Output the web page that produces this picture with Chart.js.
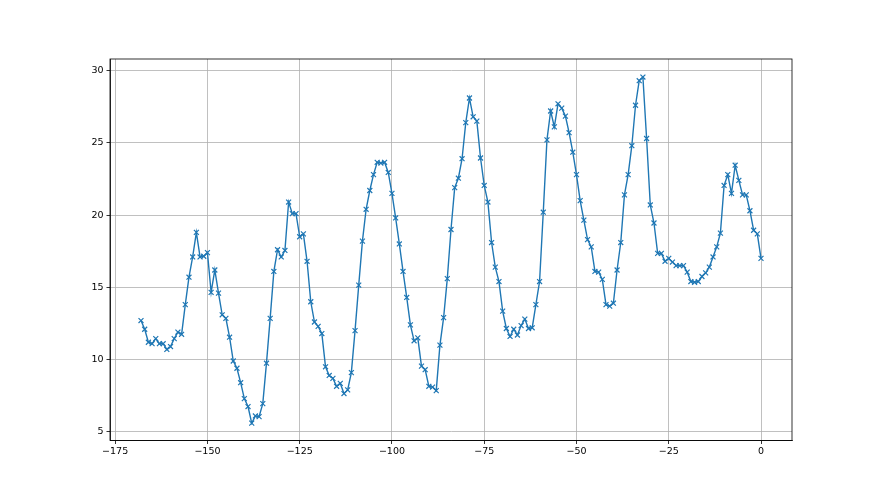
<!DOCTYPE html>
<html>
<head>
<meta charset="utf-8">
<script src="https://cdn.jsdelivr.net/npm/chart.js@4"></script>
<style>
  body { margin: 0; background: #fff; }
  canvas { display: block; }
</style>
</head>
<body>
<canvas id="grafico" width="880" height="495"></canvas>
<script>
// valores (x = -168 .. 0)
const xValues = [];
for (let i = -168; i <= 0; i++) {
    xValues.push(i);
}

const yValues = [
    12.7, 12.1, 11.2, 11.1, 11.45, 11.1, 11.1, 10.7, 10.9, 11.45,
    11.9, 11.75, 13.8, 15.7, 17.1, 18.8, 17.1, 17.15, 17.4, 14.65,
    16.2, 14.6, 13.1, 12.85, 11.55, 9.9, 9.4, 8.4, 7.3, 6.75,
    5.6, 6.1, 6.05, 6.95, 9.75, 12.85, 16.1, 17.6, 17.1, 17.55,
    20.9, 20.1, 20.1, 18.5, 18.7, 16.8, 14.0, 12.6, 12.3, 11.8,
    9.5, 8.9, 8.7, 8.15, 8.35, 7.65, 7.9, 9.1, 12.0, 15.15,
    18.2, 20.4, 21.7, 22.8, 23.65, 23.6, 23.65, 22.95, 21.5, 19.8,
    18.0, 16.1, 14.3, 12.4, 11.3, 11.5, 9.55, 9.3, 8.15, 8.1,
    7.85, 11.0, 12.9, 15.6, 19.0, 21.9, 22.55, 23.9, 26.4, 28.1,
    26.8, 26.5, 23.95, 22.05, 20.9, 18.1, 16.4, 15.4, 13.35, 12.15,
    11.6, 12.1, 11.7, 12.35, 12.8, 12.15, 12.2, 13.8, 15.4, 20.2,
    25.2, 27.2, 26.1, 27.7, 27.4, 26.85, 25.7, 24.35, 22.8, 21.0,
    19.65, 18.3, 17.8, 16.1, 16.05, 15.55, 13.8, 13.7, 13.9, 16.2,
    18.1, 21.4, 22.8, 24.8, 27.6, 29.3, 29.55, 25.3, 20.7, 19.45,
    17.35, 17.35, 16.8, 17.0, 16.75, 16.5, 16.5, 16.5, 16.05, 15.4,
    15.35, 15.4, 15.75, 16.0, 16.4, 17.1, 17.8, 18.75, 22.05, 22.8,
    21.5, 23.45, 22.4, 21.4, 21.4, 20.3, 18.95, 18.7, 17.0
];

const xTicks = [-175, -150, -125, -100, -75, -50, -25, 0];
const yTicks = [5, 10, 15, 20, 25, 30];

const lineColor = '#1f77b4';
const gridColor = '#b0b0b0';
const labelsColor = '#000';

const formatTick = (value) => value < 0 ? '\u2212' + Math.abs(value) : String(value);

// moldura completa (topo e direita também)
const frame = {
    id: 'frame',
    afterDraw(chart) {
        const { ctx, chartArea } = chart;
        ctx.save();
        ctx.strokeStyle = '#000';
        ctx.lineWidth = 0.8;
        ctx.strokeRect(chartArea.left, chartArea.top,
            chartArea.right - chartArea.left, chartArea.bottom - chartArea.top);
        ctx.restore();
    }
};

const ctx = document.getElementById('grafico').getContext('2d');

const myChart = new Chart(ctx, {
    type: 'line',
    data: {
        datasets: [{
            data: xValues.map((x, i) => ({ x: x, y: yValues[i] })),
            borderColor: lineColor,
            backgroundColor: lineColor,
            borderWidth: 1.4,
            pointStyle: 'crossRot',
            pointRadius: 3.5,
            pointBorderWidth: 1.2,
            pointBorderColor: lineColor,
            tension: 0,
            fill: false
        }]
    },
    plugins: [frame],
    options: {
        responsive: false,
        animation: false,
        layout: {
            padding: { top: 59, right: 88, left: 0, bottom: 0 }
        },
        plugins: {
            legend: { display: false },
            tooltip: { enabled: false }
        },
        scales: {
            x: {
                type: 'linear',
                min: -176.4,
                max: 8.4,
                afterBuildTicks: (scale) => {
                    scale.ticks = xTicks.map(v => ({ value: v }));
                },
                afterFit: (scale) => {
                    scale.height = 54.5;
                },
                ticks: {
                    color: labelsColor,
                    font: { family: 'DejaVu Sans', size: 9.5 },
                    padding: 2,
                    maxRotation: 0,
                    callback: formatTick
                },
                grid: {
                    color: gridColor,
                    lineWidth: 0.8,
                    tickColor: '#000',
                    tickLength: 3.5,
                    tickWidth: 0.8
                },
                border: { color: '#000', width: 0.8 }
            },
            y: {
                min: 4.4,
                max: 30.8,
                afterBuildTicks: (scale) => {
                    scale.ticks = yTicks.map(v => ({ value: v }));
                },
                afterFit: (scale) => {
                    scale.width = 110;
                },
                ticks: {
                    color: labelsColor,
                    font: { family: 'DejaVu Sans', size: 9.5 },
                    padding: 3,
                    callback: formatTick
                },
                grid: {
                    color: gridColor,
                    lineWidth: 0.8,
                    tickColor: '#000',
                    tickLength: 3.5,
                    tickWidth: 0.8
                },
                border: { color: '#000', width: 0.8 }
            }
        }
    }
});
</script>
</body>
</html>
